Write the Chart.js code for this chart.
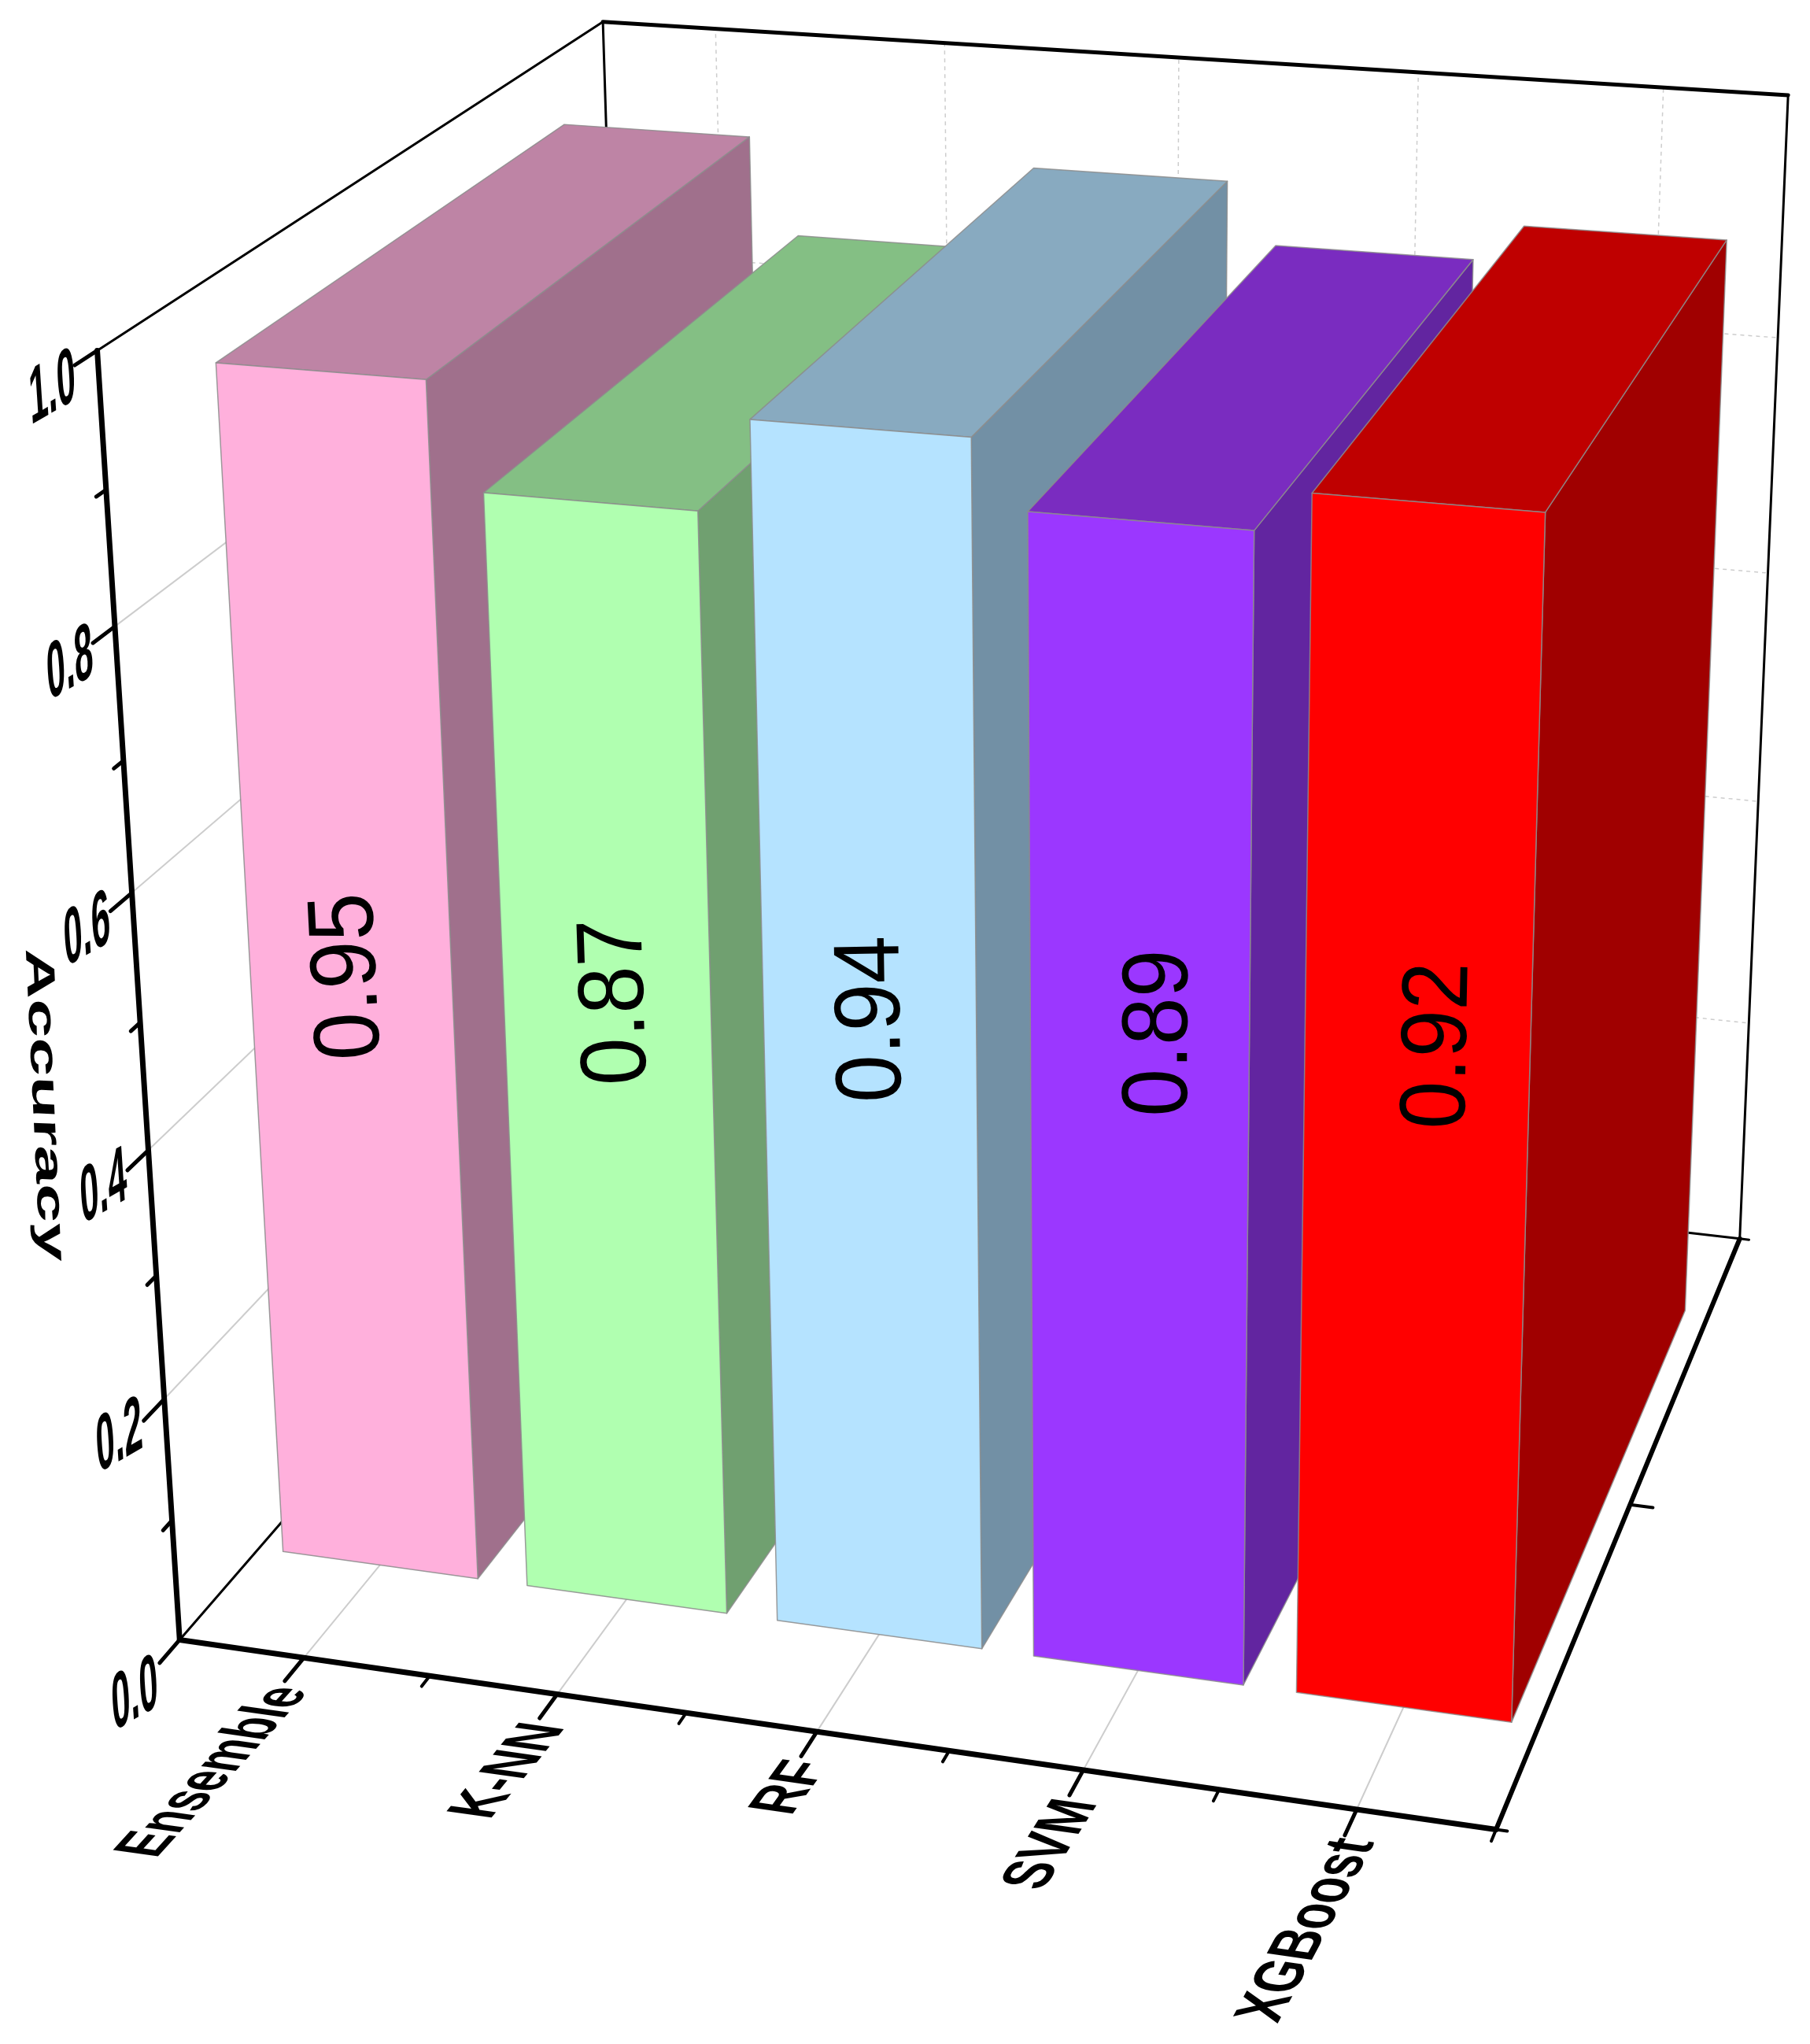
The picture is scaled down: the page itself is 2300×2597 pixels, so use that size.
<!DOCTYPE html>
<html>
<head>
<meta charset="utf-8">
<title>Accuracy</title>
<style>
  html, body { margin: 0; padding: 0; background: #fff; }
  canvas { display: block; }
</style>
<script src="https://cdn.jsdelivr.net/npm/chart.js@4"></script>
</head>
<body>
<canvas id="accuracyChart" width="2300" height="2597"></canvas>
<script>
// ===== DATA =====
const categories = ['Ensemble', 'K-NN', 'RF', 'SVM', 'XGBoost'];
const accuracy = [0.95, 0.87, 0.94, 0.89, 0.92];
const yTickValues = [0, 0.2, 0.4, 0.6, 0.8, 1.0];
const yTickLabels = ['0.0', '0.2', '0.4', '0.6', '0.8', '1.0'];
const yMinorValues = [0.1, 0.3, 0.5, 0.7, 0.9];
const valueLabels = ['0.95', '0.87', '0.94', '0.89', '0.92'];
const yAxisTitle = 'Accuracy';

const frontColors = ['#ffb0dc', '#b0ffb0', '#b5e3ff', '#9b37ff', '#ff0000'];
const topColors = ['#be84a5', '#84bf84', '#88aac0', '#7a2cc0', '#bf0000'];
const sideColors = ['#a0708c', '#70a070', '#7290a5', '#6225a0', '#a00000'];

// bars sit between these depths of the box (0 = front, 1 = back)
const depthFront = 0.148;
const depthBack = 0.85;

// value labels do not sit dead centre on the fronts, nudged by eye (px)
const labelNudgeX = [-2, 13, 5, 28, 31];
const labelNudgeY = [-19, -23, -38, -58, -81];

// ===== 3D BOX PROJECTION =====
// box corners, axis ticks and a few bar corners as seen on the page: [u, v, w, x, y]
const anchors = [
    [0, 0, 0, 232, 2083],
    [0, 1, 0, 124, 444],
    [0, 1, 1, 765, 28],
    [1, 1, 1, 2269, 121],
    [1, 0, 1, 2211, 1573],
    [1, 0, 0, 1896, 2323],
    [0.5, 0, 0, 1033, 2204],
    [0.9, 0, 0, 1722, 2299],
    [0, 0.8, 0, 145, 795],
    [1, 0, 0.5, 2078, 1913],
    [0.98, 0.92, 0.148, 1967, 651],
    [0.82, 0.92, 0.148, 1669, 628],
    [0.58, 0.94, 0.148, 1235, 556],
    [0.98, 0, 0.148, 1921, 2186]
];

function solveLinear(m, r) {
    const n = r.length;
    for (let i = 0; i < n; i++) {
        let best = i;
        for (let k = i + 1; k < n; k++) {
            if (Math.abs(m[k][i]) > Math.abs(m[best][i])) best = k;
        }
        [m[i], m[best]] = [m[best], m[i]];
        [r[i], r[best]] = [r[best], r[i]];
        for (let k = i + 1; k < n; k++) {
            const f = m[k][i] / m[i][i];
            for (let j = i; j < n; j++) m[k][j] -= f * m[i][j];
            r[k] -= f * r[i];
        }
    }
    const out = new Array(n).fill(0);
    for (let i = n - 1; i >= 0; i--) {
        let s = r[i];
        for (let j = i + 1; j < n; j++) s -= m[i][j] * out[j];
        out[i] = s / m[i][i];
    }
    return out;
}

function fitProjection() {
    const rows = [];
    const rhs = [];
    anchors.forEach(([u, v, w, x, y]) => {
        rows.push([u, v, w, 1, 0, 0, 0, 0, -x * u, -x * v, -x * w]);
        rhs.push(x);
        rows.push([0, 0, 0, 0, u, v, w, 1, -y * u, -y * v, -y * w]);
        rhs.push(y);
    });
    const ata = [];
    const atb = [];
    for (let i = 0; i < 11; i++) {
        ata.push(new Array(11).fill(0));
        atb.push(0);
        rows.forEach((row, k) => {
            for (let j = 0; j < 11; j++) ata[i][j] += row[i] * row[j];
            atb[i] += row[i] * rhs[k];
        });
    }
    return solveLinear(ata, atb);
}

const P = fitProjection();

function project(u, v, w) {
    const d = P[8] * u + P[9] * v + P[10] * w + 1;
    return {
        x: (P[0] * u + P[1] * v + P[2] * w + P[3]) / d,
        y: (P[4] * u + P[5] * v + P[6] * w + P[7]) / d
    };
}

function line3d(ctx, a, b, color, width, dash) {
    const p = project(a[0], a[1], a[2]);
    const q = project(b[0], b[1], b[2]);
    ctx.save();
    ctx.strokeStyle = color;
    ctx.lineWidth = width;
    ctx.lineCap = 'round';
    if (dash) { ctx.setLineDash(dash); ctx.lineCap = 'butt'; }
    ctx.beginPath();
    ctx.moveTo(p.x, p.y);
    ctx.lineTo(q.x, q.y);
    ctx.stroke();
    ctx.restore();
}

function face(ctx, pts, fill) {
    ctx.beginPath();
    pts.forEach((c, i) => {
        const p = project(c[0], c[1], c[2]);
        if (i === 0) ctx.moveTo(p.x, p.y); else ctx.lineTo(p.x, p.y);
    });
    ctx.closePath();
    ctx.fillStyle = fill;
    ctx.fill();
    ctx.strokeStyle = 'rgba(140,140,140,0.85)';
    ctx.lineWidth = 1.5;
    ctx.lineJoin = 'round';
    ctx.stroke();
}

function unit(a, b) {
    const dx = b.x - a.x, dy = b.y - a.y;
    const len = Math.hypot(dx, dy);
    return { x: dx / len, y: dy / len };
}

// text on a slanted plane: base = reading direction, down = glyph down direction
function skewText(ctx, text, x, y, base, down, font, align) {
    ctx.save();
    ctx.transform(base.x, base.y, down.x, down.y, x, y);
    ctx.font = font;
    ctx.fillStyle = '#000';
    ctx.textAlign = align || 'center';
    ctx.textBaseline = 'middle';
    ctx.fillText(text, 0, 0);
    ctx.restore();
}

// ===== PLUGIN: draws the box, the bars and all the text =====
const box3d = {
    id: 'box3d',
    beforeDatasetDraw(chart) {
        const ctx = chart.ctx;
        const area = chart.chartArea;
        const xScale = chart.scales.x;
        const yScale = chart.scales.y;
        const toU = px => (px - area.left) / (area.right - area.left);
        const toV = px => (area.bottom - px) / (area.bottom - area.top);
        const grid = '#cdcdcd';

        const catU = categories.map((c, i) => toU(xScale.getPixelForValue(i)));
        const tickV = yTickValues.map(t => toV(yScale.getPixelForValue(t)));
        const minorV = yMinorValues.map(t => toV(yScale.getPixelForValue(t)));
        const minorU = [0.2, 0.4, 0.6, 0.8, 1];

        // grid on walls and floor
        tickV.forEach((v, i) => {
            if (i === 0 || i === tickV.length - 1) return;
            line3d(ctx, [0, v, 0], [0, v, 1], grid, 2);
            line3d(ctx, [0, v, 1], [1, v, 1], grid, 1.5, [5, 5]);
        });
        catU.forEach(u => {
            line3d(ctx, [u, 0, 0], [u, 0, 1], grid, 2);
            line3d(ctx, [u, 0, 1], [u, 1, 1], grid, 1.5, [5, 5]);
        });

        // thin box frame
        line3d(ctx, [0, 1, 0], [0, 1, 1], '#000', 3);
        line3d(ctx, [0, 0, 0], [0, 0, 1], '#000', 3);
        line3d(ctx, [0, 0, 1], [0, 1, 1], '#000', 3);
        line3d(ctx, [0, 0, 1], [1, 0, 1], '#000', 3);
        line3d(ctx, [1, 0, 1], [1, 1, 1], '#000', 3);
        line3d(ctx, [0, 1, 1], [1, 1, 1], '#000', 5);

        // bars, left to right so nearer ones cover the farther sides
        const meta = chart.getDatasetMeta(0);
        meta.data.forEach((bar, i) => {
            const u0 = toU(bar.x - bar.width / 2);
            const u1 = toU(bar.x + bar.width / 2);
            const vTop = toV(bar.y);
            const vBase = toV(bar.base);
            face(ctx, [[u1, vBase, depthFront], [u1, vBase, depthBack], [u1, vTop, depthBack], [u1, vTop, depthFront]], sideColors[i]);
            face(ctx, [[u0, vTop, depthFront], [u1, vTop, depthFront], [u1, vTop, depthBack], [u0, vTop, depthBack]], topColors[i]);
            face(ctx, [[u0, vBase, depthFront], [u1, vBase, depthFront], [u1, vTop, depthFront], [u0, vTop, depthFront]], frontColors[i]);
        });

        // heavy axes
        line3d(ctx, [0, 0, 0], [0, 1, 0], '#000', 7);
        line3d(ctx, [0, 0, 0], [1, 0, 0], '#000', 7);
        line3d(ctx, [1, 0, 0], [1, 0, 1], '#000', 6);

        // ticks
        tickV.forEach(v => line3d(ctx, [0, v, 0], [0, v, -0.036], '#000', 5));
        minorV.forEach(v => line3d(ctx, [0, v, 0], [0, v, -0.016], '#000', 5));
        catU.forEach(u => line3d(ctx, [u, 0, 0], [u, 0, -0.036], '#000', 5));
        minorU.forEach(u => line3d(ctx, [u, 0, 0], [u, 0, -0.016], '#000', 4));
        line3d(ctx, [1, 0, 0], [1.008, 0, 0], '#000', 4);
        line3d(ctx, [1, 0, 0.5], [1.018, 0, 0.5], '#000', 4);
        line3d(ctx, [1, 0, 1], [1.008, 0, 1], '#000', 3);

        // y tick labels lie in the left wall
        yTickLabels.forEach((label, i) => {
            const p = project(0, tickV[i], 0);
            const extra = i === 0 ? 22 : 0;
            skewText(ctx, label, p.x - 57, p.y + 50 + extra,
                { x: 0.42, y: -0.24 }, { x: 0.065, y: 1 }, 'bold 100px "Liberation Sans"');
        });

        // category labels lie on the floor, reading towards the axis
        categories.forEach((label, i) => {
            const u = catU[i];
            const p = project(u, 0, 0);
            const dir = unit(p, project(u, 0, 1));
            const b = unit({ x: 0, y: 0 }, { x: dir.x + 0.07, y: dir.y });
            skewText(ctx, label, p.x - 18 + 20 * u, p.y + 38,
                { x: b.x * 0.73, y: b.y * 0.73 }, { x: 0.99, y: 0.14 }, 'bold 84px "Liberation Sans"', 'right');
        });

        // y axis title
        skewText(ctx, yAxisTitle, 56, 1404,
            { x: 0.05, y: 1.1 }, { x: -0.64, y: -0.03 }, 'bold 80px "Liberation Sans"');

        // value labels on the bar fronts
        const labelV = Math.max(...accuracy) / 2;
        meta.data.forEach((bar, i) => {
            const u = toU(bar.x);
            const p = project(u, labelV, depthFront);
            const baseDir = unit(p, project(u, labelV + 0.1, depthFront));
            skewText(ctx, valueLabels[i], p.x + labelNudgeX[i], p.y + labelNudgeY[i],
                { x: baseDir.x * 0.99, y: baseDir.y * 0.99 },
                { x: -baseDir.y * 1.08, y: baseDir.x * 1.08 },
                '110px "Liberation Sans"');
        });

        return false; // the stock flat bars are not drawn
    }
};

// ===== CHART =====
function initializeChart() {
    const ctx = document.getElementById('accuracyChart');
    new Chart(ctx.getContext('2d'), {
        type: 'bar',
        data: {
            labels: categories,
            datasets: [{
                label: yAxisTitle,
                data: accuracy,
                backgroundColor: frontColors,
                barPercentage: 0.8,
                categoryPercentage: 1
            }]
        },
        options: {
            responsive: false,
            animation: false,
            layout: { padding: 0 },
            plugins: {
                legend: { display: false },
                tooltip: { enabled: false }
            },
            scales: {
                x: { display: false },
                y: { display: false, min: 0, max: 1 }
            }
        },
        plugins: [box3d]
    });
}

document.addEventListener('DOMContentLoaded', initializeChart);
</script>
</body>
</html>
